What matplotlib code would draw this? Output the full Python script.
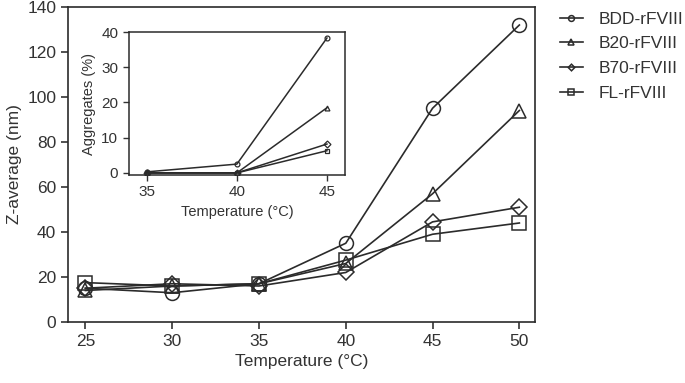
import matplotlib.pyplot as plt

plt.rcParams['font.family'] = ['Liberation Sans', 'DejaVu Sans']

temps = [25, 30, 35, 40, 45, 50]
names = ["BDD-rFVIII", "B20-rFVIII", "B70-rFVIII", "FL-rFVIII"]
markers = ["o", "^", "D", "s"]

bdd = [15, 13, 17, 35, 95, 132]
b20 = [14, 16, 17, 26, 57, 94]
b70 = [15, 17, 16, 22, 44.5, 51]
fl = [17.5, 16, 17, 27.5, 39, 44]

inset_temps = [35, 40, 45]
agg_bdd = [0.3, 2.5, 38.3]
agg_b20 = [0, 0, 18.5]
agg_b70 = [0, 0, 8.2]
agg_fl = [0, 0, 6.3]

col = "#2b2b2b"
txt = "#333333"

fig = plt.figure(figsize=(6.85, 3.83), dpi=100)
ax = fig.add_axes([0.0993, 0.1593, 0.6817, 0.8224])

main_series = [bdd, b20, b70, fl]
for name, m, ys in zip(names, markers, main_series):
    ms = 8 if m == "D" else 10
    ax.plot(temps, ys, marker=m, color=col, mfc="none", mec=col, ms=ms,
            lw=1.2, mew=1.1, label=name)

ax.set_xlim(24, 50.9)
ax.set_ylim(0, 140)
ax.set_xticks(temps)
ax.set_yticks(range(0, 141, 20))
ax.set_xlabel("Temperature (°C)", fontsize=12.5, color=txt)
ax.set_ylabel("Z-average (nm)", fontsize=12.5, color=txt)
ax.tick_params(labelsize=12.5, colors=txt, length=5, width=1.2)
for s in ax.spines.values():
    s.set_color(col)
    s.set_linewidth(1.2)

leg = ax.legend(loc="upper left", bbox_to_anchor=(1.02, 1.035), frameon=False,
                fontsize=12.5, markerscale=0.42, handlelength=1.3,
                labelspacing=0.55, handletextpad=0.9, labelcolor=txt)

ins = fig.add_axes([0.188, 0.543, 0.3156, 0.3734])
inset_series = [agg_bdd, agg_b20, agg_b70, agg_fl]
for m, ys in zip(markers, inset_series):
    ins.plot(inset_temps, ys, marker=m, color=col, mfc="none", mec=col,
             ms=3.5, lw=1.1, mew=0.9)
ins.set_xlim(34, 46)
ins.set_ylim(-0.6, 40)
ins.set_xticks(inset_temps)
ins.set_yticks(range(0, 41, 10))
ins.set_xlabel("Temperature (°C)", fontsize=10.5, color=txt)
ins.set_ylabel("Aggregates (%)", fontsize=10.5, color=txt)
ins.tick_params(labelsize=11, colors=txt, length=4, width=1)
for s in ins.spines.values():
    s.set_color(col)
    s.set_linewidth(1.1)

fig.savefig("out.png", dpi=100)
